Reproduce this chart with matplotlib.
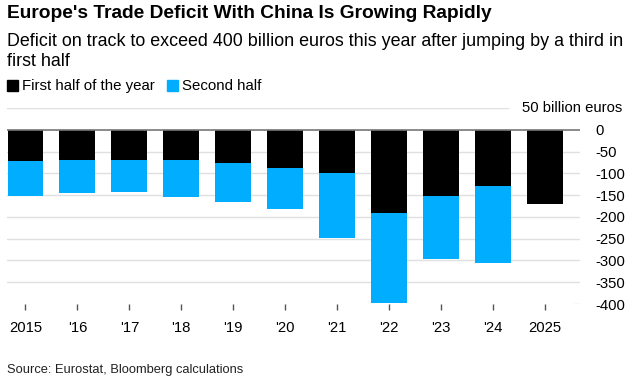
import matplotlib
matplotlib.use("Agg")
import matplotlib.pyplot as plt
import numpy as np
from matplotlib.patches import Rectangle

years = ["2015", "'16", "'17", "'18", "'19", "'20", "'21", "'22", "'23", "'24", "2025"]
first_half = [-71, -70, -69, -69, -76, -88, -99, -190, -152, -130, -171]
second_half = [-80, -76, -75, -86, -89, -94, -150, -207, -145, -176, np.nan]
yticks = [50, 0, -50, -100, -150, -200, -250, -300, -350, -400]
ytick_labels = ["", "0", "-50", "-100", "-150", "-200", "-250", "-300", "-350", "-400"]

plt.rcParams['font.family'] = ['Liberation Sans', 'DejaVu Sans']

W, H = 634, 388
fig = plt.figure(figsize=(W / 100, H / 100), dpi=100)
ax = fig.add_axes([7 / W, 1 - 304 / H, (580 - 7) / W, (304 - 108) / H])

x = np.arange(len(years))
blk = '#000000'
blue = '#00adff'
ax.bar(x, first_half, width=0.69, color=blk, zorder=3)
sh = np.array(second_half, dtype=float)
ax.bar(x, np.nan_to_num(sh), bottom=first_half, width=0.69, color=blue, zorder=3)

ax.set_xlim(-0.356, 10.68)
ax.set_ylim(-400, 50)

for v in yticks:
    if v == 0:
        ax.axhline(0, color='#777777', lw=1.2, zorder=4)
    elif v == 50:
        ax.axhline(v, xmin=0, xmax=(508 - 7) / (580 - 7), color='#e0e0e0', lw=1, zorder=1)
    elif v == -400:
        ax.axhline(v, xmin=(574 - 7) / (580 - 7), xmax=1, color='#e0e0e0', lw=1, zorder=1)
    else:
        ax.axhline(v, color='#e0e0e0', lw=1, zorder=1)

ax.yaxis.tick_right()
ax.set_yticks(yticks)
ax.set_yticklabels(ytick_labels)
ax.tick_params(axis='y', length=0, pad=11, labelsize=10.7, colors='#000000')
ax.set_xticks(x)
ax.set_xticklabels(years)
ax.tick_params(axis='x', length=4, width=1, color='#555555', pad=8, labelsize=10.7)
for s in ax.spines.values():
    s.set_visible(False)

fig.text(622 / W, 1 - 108 / H, "50 billion euros", ha='right', va='center', fontsize=10.7)

fig.text(7 / W, 1 - 14 / H, "Europe's Trade Deficit With China Is Growing Rapidly",
         ha='left', va='center', fontsize=13.8, fontweight='bold')
fig.text(7 / W, 1 - 42 / H, "Deficit on track to exceed 400 billion euros this year after jumping by a third in",
         ha='left', va='center', fontsize=12.9)
fig.text(7 / W, 1 - 62 / H, "first half", ha='left', va='center', fontsize=12.9)

# legend
fig.patches.append(Rectangle((7 / W, 1 - 91 / H), 11 / W, 11 / H, transform=fig.transFigure, color=blk))
fig.text(22 / W, 1 - 86 / H, "First half of the year", ha='left', va='center', fontsize=10.8)
fig.patches.append(Rectangle((167 / W, 1 - 91 / H), 11 / W, 11 / H, transform=fig.transFigure, color=blue))
fig.text(182 / W, 1 - 86 / H, "Second half", ha='left', va='center', fontsize=10.8)

fig.text(7 / W, 1 - 370 / H, "Source: Eurostat, Bloomberg calculations", ha='left', va='center',
         fontsize=9.3, color='#222222')

fig.savefig("out.png", dpi=100)
